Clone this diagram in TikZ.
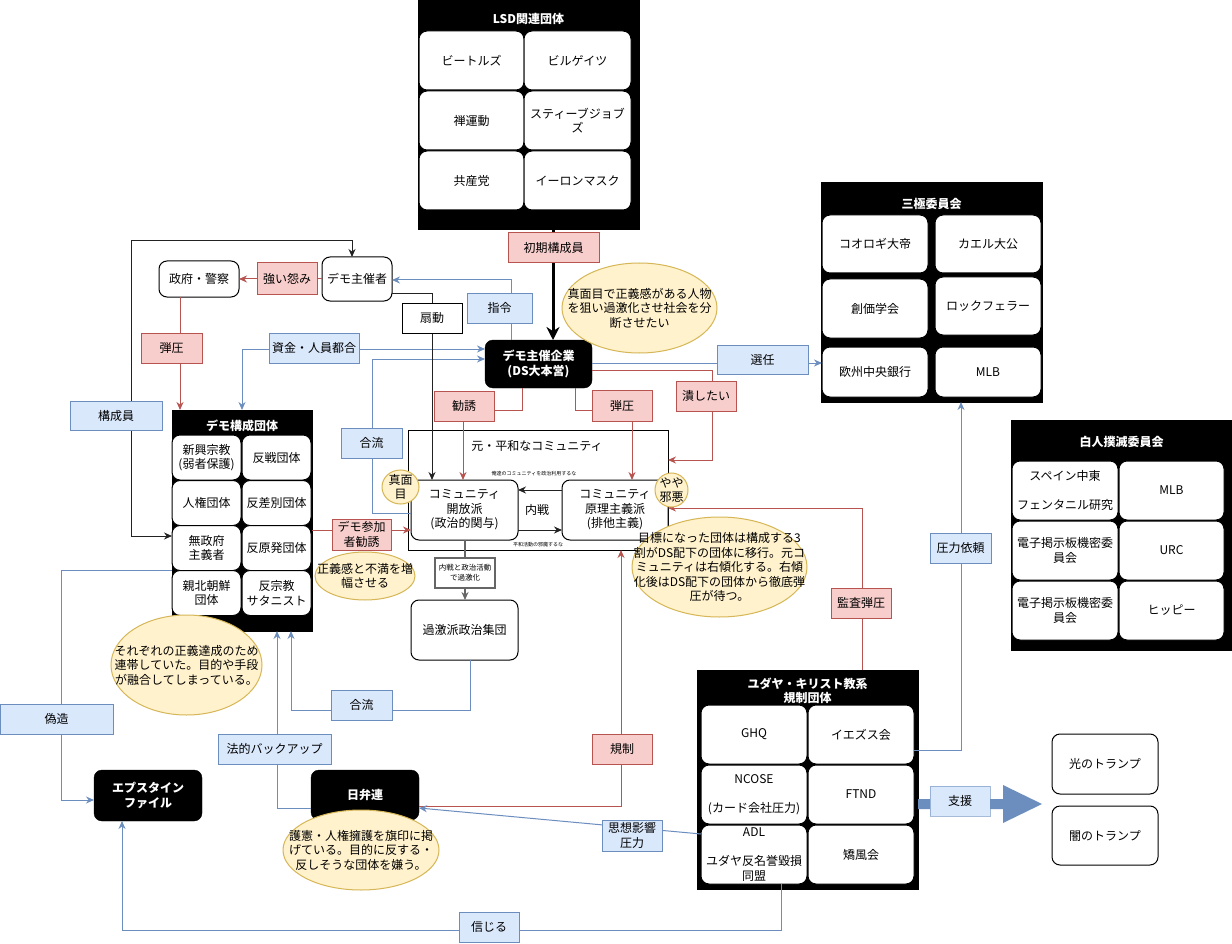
\documentclass[tikz,border=0pt]{standalone}
\usepackage{fontspec}
\setmainfont{Noto Sans CJK JP}
\usetikzlibrary{arrows.meta,shapes.geometric}
\definecolor{rfill}{HTML}{F8CECC}
\definecolor{rline}{HTML}{B85450}
\definecolor{bfill}{HTML}{DAE8FC}
\definecolor{bline}{HTML}{6C8EBF}
\definecolor{yfill}{HTML}{FFF2CC}
\definecolor{yline}{HTML}{D6B656}
\definecolor{gline}{HTML}{666666}
\definecolor{kline}{HTML}{222222}
\begin{document}
\begin{tikzpicture}[x=1pt,y=-1pt,
 every node/.style={font=\fontsize{12}{14.5}\selectfont, align=center, inner sep=0pt, outer sep=0pt},
 sz/.style 2 args={minimum width=#1pt, minimum height=#2pt},
 cont/.style={rectangle, fill=black, draw=black},
 ttl/.style={text=white, font=\fontsize{12}{14.5}\selectfont\bfseries},
 cell/.style={rectangle, rounded corners=8pt, fill=white, draw=black, line width=1pt},
 wbox/.style={rectangle, rounded corners=8pt, fill=white, draw=black, line width=1pt},
 bbox/.style={rectangle, rounded corners=8pt, fill=black, draw=black, text=white, font=\fontsize{12}{14.5}\selectfont\bfseries},
 rlbl/.style={rectangle, fill=rfill, draw=rline, line width=1pt},
 blbl/.style={rectangle, fill=bfill, draw=bline, line width=1pt},
 note/.style={ellipse, fill=yfill, draw=yline, line width=1pt},
 arr/.style={-{Stealth[length=8pt,width=7pt]}},
 redge/.style={draw=rline, line width=1pt, arr},
 bedge/.style={draw=bline, line width=1pt, arr},
 kedge/.style={draw=kline, line width=1pt, arr},
 gedge/.style={draw=gline, line width=1.5pt, arr},
 tiny/.style={font=\fontsize{5}{6}\selectfont},
]
\useasboundingbox[fill=white] (0,0) rectangle (1232,944);

% ---------- LSD group ----------
\node[cont, sz={221}{229}] (lsd) at (528.5,114.5) {};
\node[ttl] (lsdt) at (528.5,19) {LSD関連団体};
\node[cell, sz={105}{59}] (l11) at (471.5,60.5) {ビートルズ};
\node[cell, sz={107}{59}] (l12) at (577.5,60.5) {ビルゲイツ};
\node[cell, sz={105}{59}] (l21) at (471.5,120.5) {禅運動};
\node[cell, sz={107}{59}] (l22) at (577.5,120.5) {スティーブジョブ\\ズ};
\node[cell, sz={105}{59}] (l31) at (471.5,180.5) {共産党};
\node[cell, sz={107}{59}] (l32) at (577.5,180.5) {イーロンマスク};

% ---------- DS ----------
\node[bbox, sz={107}{48}] (ds) at (538.5,364) {デモ主催企業\\(DS大本営)};

% ---------- Trilateral ----------
\node[cont, sz={221}{220}] (san) at (931.5,292) {};
\node[ttl] (sant) at (931.5,204) {三極委員会};
\node[cell, sz={106}{58}] (s11) at (875,244) {コオロギ大帝};
\node[cell, sz={106}{58}] (s12) at (988,244) {カエル大公};
\node[cell, sz={106}{59}] (s21) at (875,308.5) {創価学会};
\node[cell, sz={106}{58}] (s22) at (988,306) {ロックフェラー};
\node[cell, sz={106}{50}] (s31) at (875,372) {欧州中央銀行};
\node[cell, sz={106}{50}] (s32) at (988,372) {MLB};

% ---------- White extermination ----------
\node[cont, sz={221}{230}] (hak) at (1121.5,535) {};
\node[ttl] (hakt) at (1121.5,442) {白人撲滅委員会};
\node[cell, sz={106}{59}] (h11) at (1065,490.5) {スペイン中東\\[14.5pt]フェンタニル研究};
\node[cell, sz={105}{59}] (h12) at (1171.5,490.5) {MLB};
\node[cell, sz={106}{59}] (h21) at (1065,550.5) {電子掲示板機密委\\員会};
\node[cell, sz={105}{59}] (h22) at (1171.5,550.5) {URC};
\node[cell, sz={106}{59}] (h31) at (1065,610.5) {電子掲示板機密委\\員会};
\node[cell, sz={105}{59}] (h32) at (1171.5,610.5) {ヒッピー};

% ---------- Judeo-Christian ----------
\node[cont, sz={221}{219}] (yud) at (807.5,779.5) {};
\node[ttl] (yudt) at (807.5,691) {ユダヤ・キリスト教系\\規制団体};
\node[cell, sz={106}{59}] (y11) at (754,734.5) {GHQ};
\node[cell, sz={106}{59}] (iez) at (861,734.5) {イエズス会};
\node[cell, sz={106}{59}] (y21) at (754,794.5) {NCOSE\\[14.5pt](カード会社圧力)};
\node[cell, sz={106}{59}] (y22) at (861,794.5) {FTND};
\node[cell, sz={106}{59}] (adl) at (754,854.5) {ADL\\[14.5pt]ユダヤ反名誉毀損\\同盟};
\node[cell, sz={106}{59}] (y32) at (861,854.5) {矯風会};

% ---------- Trump ----------
\node[wbox, sz={106}{60}] (hikari) at (1105,764) {光のトランプ};
\node[wbox, sz={106}{59}] (yami) at (1105,835.5) {闇のトランプ};

% ---------- Community ----------
\node[rectangle, draw=black, fill=white, line width=1pt, sz={260}{120}] (comm) at (538,490) {};
\node (commt) at (537,446) {元・平和なコミュニティ};
\node[wbox, sz={107}{60}] (open) at (464.5,510) {コミュニティ\\開放派\\(政治的関与)};
\node[wbox, sz={106}{60}] (gen) at (615,510) {コミュニティ\\原理主義派\\(排他主義)};
\node[tiny] (t1) at (534,474) {俺達のコミュニティを政治利用するな};
\node[tiny] (t2) at (538,545) {平和活動の邪魔するな};
\node (naisen) at (537,510) {内戦};
\node[wbox, sz={107}{60}] (kage) at (464.5,630) {過激派政治集団};

% ---------- Demo group ----------
\node[cont, sz={140}{221}] (demo) at (242,520.5) {};
\node[ttl] (demot) at (242,426) {デモ構成団体};
\node[cell, sz={69}{45}] (d11) at (206.5,457.5) {新興宗教\\(弱者保護)};
\node[cell, sz={69}{45}] (d12) at (276.5,457.5) {反戦団体};
\node[cell, sz={69}{45}] (d21) at (206.5,503) {人権団体};
\node[cell, sz={69}{45}] (d22) at (276.5,503) {反差別団体};
\node[cell, sz={69}{45}] (muse) at (206.5,548) {無政府\\主義者};
\node[cell, sz={69}{45}] (d32) at (276.5,548) {反原発団体};
\node[cell, sz={69}{45}] (kita) at (206.5,593) {親北朝鮮\\団体};
\node[cell, sz={69}{45}] (d42) at (276.5,593) {反宗教\\サタニスト};

\node[wbox, sz={80}{36}] (gov) at (199,279) {政府・警察};
\node[wbox, sz={70}{44}] (org) at (357,279) {デモ主催者};
\node[bbox, sz={108}{51}] (eps) at (148,795.5) {エプスタイン\\ファイル};
\node[bbox, sz={108}{50}] (nichi) at (365,795) {日弁連};

% ---------- Edges ----------
\draw[line width=3pt, -{Stealth[length=13pt,width=13pt]}] (lsd.south -| 553,0) -- (ds.north -| 553,0);
\draw[redge] (org.west) -- (gov.east);
\draw[redge] (gov.south -| 180,0) -- (demo.north -| 180,0);
\draw[kedge, {Stealth[length=8pt,width=7pt]}-{Stealth[length=8pt,width=7pt]}] (demo.west |- 0,536) -| (131,241) -| (org.north -| 352,0);
\draw[bedge, {Stealth[length=8pt,width=7pt]}-{Stealth[length=8pt,width=7pt]}] (ds.west |- 0,349) -| (demo.north);
\draw[bedge] (open.west |- 0,513) -| (372,359) -- (ds.west |- 0,359);
\draw[bedge] (ds.north -| 511,0) |- (org.east |- 0,280);
\draw[kedge] (org.east |- 0,293) -| (open.north -| 432,0);
\draw[redge] (ds.south -| 522,0) |- (463,410) -- (open.north -| 463,0);
\draw[redge] (ds.south -| 575,0) |- (632,410) -- (gen.north -| 632,0);
\draw[redge] (ds.east |- 0,370) -| (712,460) -- (comm.east |- 0,460);
\draw[bedge] (ds.east |- 0,363) -- (s31.west |- 0,363);
\draw[kedge] (gen.west |- 0,490) -- (open.east |- 0,490);
\draw[kedge] (open.east |- 0,530) -- (gen.west |- 0,530);
\draw[redge] (demo.east |- 0,530) -- (open.west |- 0,530);
\draw[gedge] (open.south -| 465,0) -- (kage.north -| 465,0);
\draw[bedge] (kage.south -| 470,0) |- (291,710) -- (demo.south -| 291,0);
\draw[bedge] (nichi.west |- 0,808) -| (demo.south -| 277,0);
\draw[redge] (nichi.east |- 0,806) -| (comm.south -| 621,0);
\draw[bedge] (adl.west |- 0,834) -- (nichi.east |- 0,808);
\draw[bedge] (adl.south -| 781,0) |- (122,930) -- (eps.south -| 122,0);
\draw[bedge] (kita.west |- 0,570) -| (61,800) -- (eps.west |- 0,800);
\draw[redge] (yud.north -| 862,0) |- (gen.east |- 0,508);
\draw[bedge] (iez.east |- 0,750) -| (san.south -| 961,0);
\coordinate (sa) at (918,804);
\coordinate (sb) at (1042,804);
\fill[bline] ([shift={(0,-5)}]sa) -- ++(85,0) -- ++(0,-14) -- (sb) -- ++(-39,19) -- ++(0,-14) -- ++(-85,0) -- cycle;

% ---------- Labels ----------
\node[rlbl, sz={91}{30}] (lb1) at (553.5,248) {初期構成員};
\node[rlbl, sz={60}{31}] (lb2) at (287,278.5) {強い怨み};
\node[rlbl, sz={61}{30}] (lb3) at (171.5,348) {弾圧};
\node[blbl, sz={92}{29}] (lb4) at (116,415.5) {構成員};
\node[blbl, sz={90}{30}] (lb5) at (314,348) {資金・人員都合};
\node[blbl, sz={61}{30}] (lb6) at (371.5,443) {合流};
\node[blbl, sz={65}{30}] (lb7) at (499.5,308) {指令};
\node[wbox, rounded corners=0pt, sz={60}{30}] (lb8) at (432,318) {扇動};
\node[rlbl, sz={60}{30}] (lb9) at (464,406) {勧誘};
\node[rlbl, sz={60}{31}] (lb10) at (622,405.5) {弾圧};
\node[rlbl, sz={60}{30}] (lb11) at (706,396) {潰したい};
\node[blbl, sz={91}{29}] (lb12) at (762.5,359.5) {選任};
\node[rlbl, sz={59}{31}] (lb14) at (361.5,534.5) {デモ参加\\者勧誘};
\node[rectangle, fill=white, draw=gline, line width=1.5pt, sz={60}{30}, font=\fontsize{7.5}{10}\selectfont] (lb15) at (465,573) {内戦と政治活動\\で過激化};
\node[blbl, sz={61}{30}] (lb16) at (361.5,705) {合流};
\node[blbl, sz={113}{30}] (lb17) at (274.5,749) {法的バックアップ};
\node[rlbl, sz={60}{30}] (lb18) at (622,749) {規制};
\node[blbl, sz={60}{31}] (lb19) at (632,835.5) {思想影響\\圧力};
\node[blbl, sz={60}{30}] (lb20) at (489,927) {信じる};
\node[blbl, sz={113}{30}] (lb21) at (56.5,719) {偽造};
\node[rlbl, sz={60}{30}] (lb22) at (861,603) {監査弾圧};
\node[blbl, sz={61}{30}] (lb23) at (960.5,548) {圧力依頼};
\node[blbl, draw opacity=0.6, sz={60}{30}] (lb24) at (960,801) {支援};

% ---------- Notes ----------
\node[note, sz={155}{90}] (dsn) at (639.5,308) {};
\node at (dsn) {真面目で正義感がある人物\\を狙い過激化させ社会を分\\断させたい};
\node[note, sz={37}{34}] (majime) at (400.5,487) {};
\node at (majime) {真面\\目};
\node[note, sz={33}{34}] (yaya) at (671.5,490) {};
\node at (yaya) {やや\\邪悪};
\node[note, sz={175}{100}] (mokuhyo) at (719.5,567) {};
\node at (mokuhyo) {目標になった団体は構成する3\\割がDS配下の団体に移行。元コ\\ミュニティは右傾化する。右傾\\化後はDS配下の団体から徹底弾\\圧が待つ。};
\node[note, sz={100}{48}] (seigi) at (365,576) {};
\node at (seigi) {正義感と不満を増\\幅させる};
\node[note, sz={151}{100}] (sore) at (186.5,665) {};
\node at (sore) {それぞれの正義達成のため\\連帯していた。目的や手段\\が融合してしまっている。};
\node[note, sz={156}{80}] (nnote) at (361,850) {};
\node at (nnote) {護憲・人権擁護を旗印に掲\\げている。目的に反する・\\反しそうな団体を嫌う。};
\end{tikzpicture}
\end{document}
